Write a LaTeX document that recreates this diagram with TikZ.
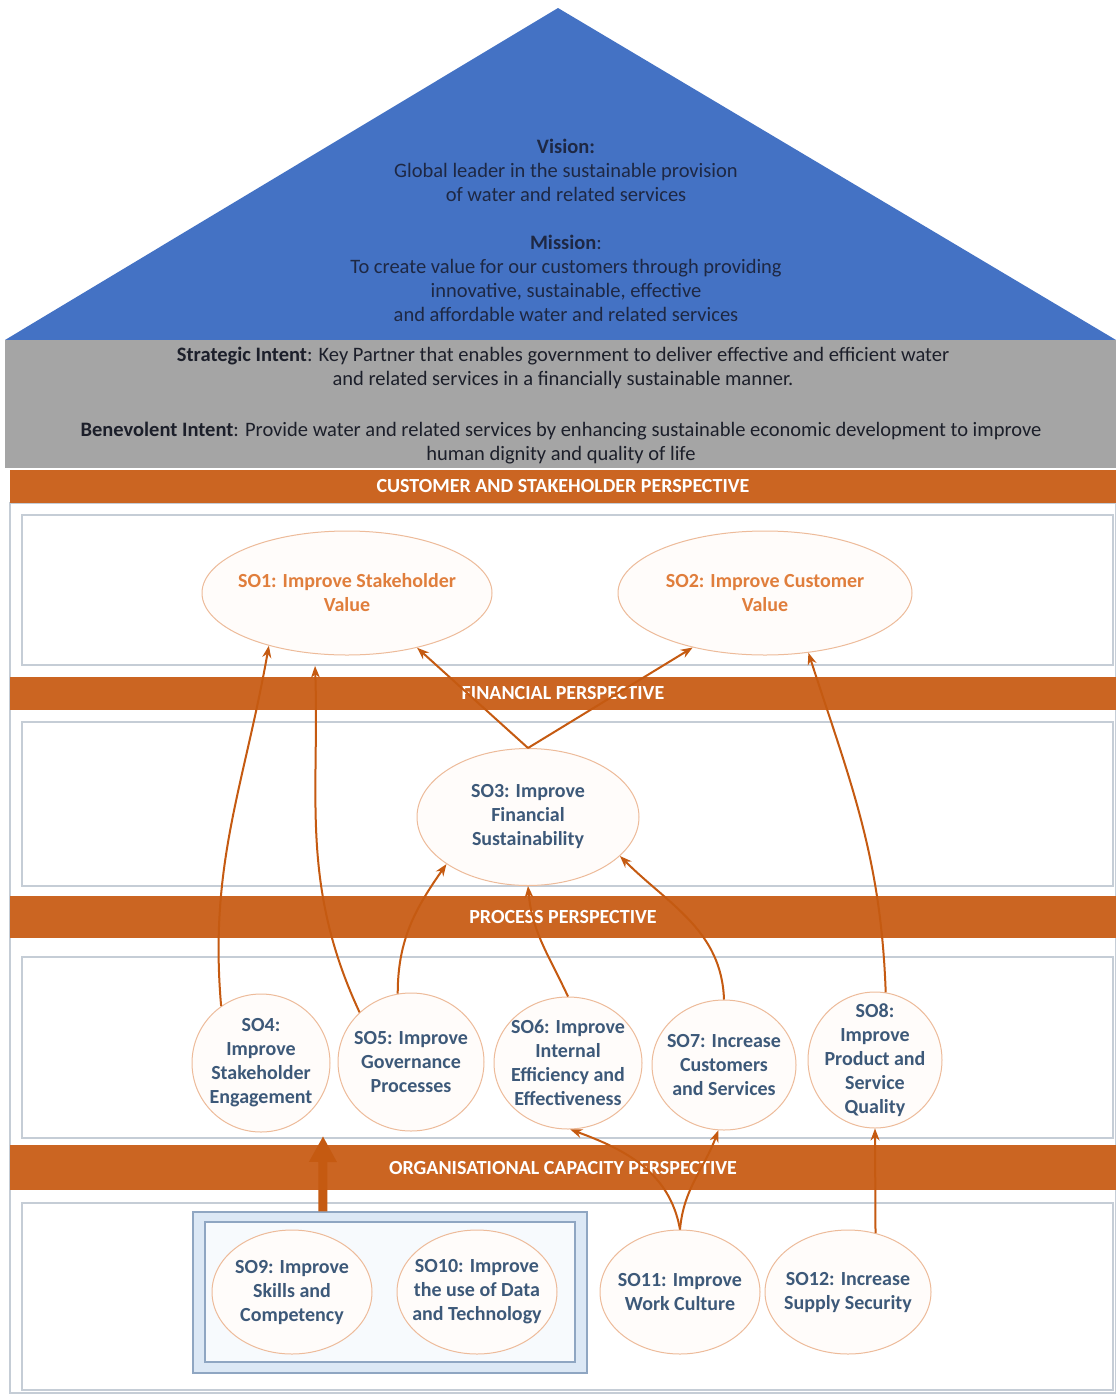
\documentclass[tikz,border=0pt]{standalone}
\usepackage{fontspec}
\setmainfont{Carlito}
\usetikzlibrary{shapes.geometric,arrows.meta,calc}

\definecolor{roofblue}{HTML}{4472C4}
\definecolor{intentgray}{HTML}{A5A5A5}
\definecolor{bandorange}{HTML}{CB6522}
\definecolor{arroworange}{HTML}{C55A11}
\definecolor{navytext}{HTML}{1E2844}
\definecolor{graytext}{HTML}{1C1F2A}
\definecolor{objtext}{HTML}{3D5979}
\definecolor{valtext}{HTML}{E07E3C}
\definecolor{ringorange}{HTML}{EDBB9A}
\definecolor{ringfill}{HTML}{FFFCFA}
\definecolor{framegray}{HTML}{C5CDD6}
\definecolor{grpfill}{HTML}{DCE8F5}
\definecolor{grpline}{HTML}{8FA6C2}
\definecolor{grpinner}{HTML}{F7FAFD}

\tikzset{
  roofText/.style={text=navytext, align=center, font=\fontsize{20.5}{24}\selectfont},
  intentText/.style={text=graytext, align=center, font=\fontsize{20.5}{24}\selectfont},
  band/.style={rectangle, fill=bandorange, draw=none, text=white,
    font=\bfseries\fontsize{20}{22}\selectfont, minimum width=1106pt, inner sep=0pt},
  section/.style={draw=framegray, line width=1.2pt, fill=white},
  objective/.style={ellipse, draw=ringorange, fill=ringfill, line width=1pt, inner sep=0pt},
  objlabel/.style={align=center, text=objtext, inner sep=0pt,
    font=\bfseries\fontsize{20}{24}\selectfont},
  vallabel/.style={objlabel, text=valtext},
  link/.style={draw=arroworange, line width=2pt, -{Stealth[length=12pt,width=9pt]}},
  lift/.style={draw=arroworange, line width=9pt, -{Triangle[length=26pt,width=26pt]}},
}

\begin{document}
\begin{tikzpicture}[x=1pt,y=-1pt]
\useasboundingbox (0,0) rectangle (1116,1395);
\fill[white] (0,0) rectangle (1116,1395);

% roof: vision and mission
\fill[roofblue] (558,8) -- (1116,340) -- (5,340) -- cycle;
\node[roofText] (vision) at (566,170)
  {\textbf{Vision:}\\Global leader in the sustainable provision\\of water and related services};
\node[roofText] (mission) at (566,278)
  {\textbf{Mission}:\\To create value for our customers through providing\\innovative, sustainable, effective\\and affordable water and related services};

% intents
\fill[intentgray] (5,340) rectangle (1116,468);
\node[intentText] (strategic) at (563,368)
  {\textbf{Strategic Intent}: Key Partner that enables government to deliver effective and efficient water\\and related services in a financially sustainable manner.};
\node[intentText] (benevolent) at (561,443)
  {\textbf{Benevolent Intent}: Provide water and related services by enhancing sustainable economic development to improve\\human dignity and quality of life};

% perspective frame and sections
\draw[framegray, line width=1.2pt] (10,503) rectangle (1116,1393);
\draw[section] (22,515) rectangle (1113,665);
\draw[section] (22,722) rectangle (1113,886);
\draw[section] (22,957) rectangle (1113,1138);
\draw[section] (22,1203) rectangle (1113,1390);

% perspective bands
\node[band, minimum height=33pt] (b1) at (563,486.5) {CUSTOMER AND STAKEHOLDER PERSPECTIVE};
\node[band, minimum height=33pt] (b2) at (563,693.5) {FINANCIAL PERSPECTIVE};
\node[band, minimum height=42pt] (b3) at (563,917) {PROCESS PERSPECTIVE};
\node[band, minimum height=45pt] (b4) at (563,1167.5) {ORGANISATIONAL CAPACITY PERSPECTIVE};

% grouped capacity objectives
\node[draw=grpline, line width=1.5pt, fill=grpfill, minimum width=394pt, minimum height=161pt,
  inner sep=0pt] (grp) at (390,1292.5) {};
\node[draw=grpline, line width=2.5pt, fill=grpinner, minimum width=370pt, minimum height=140pt,
  inner sep=0pt] (grpin) at (390,1292) {};

% objectives
\node[objective, minimum width=290pt, minimum height=124pt,
  label={[vallabel]center:{SO1: Improve Stakeholder\\Value}}] (so1) at (347,593) {};
\node[objective, minimum width=294pt, minimum height=124pt,
  label={[vallabel]center:{SO2: Improve Customer\\Value}}] (so2) at (765,593) {};
\node[objective, minimum width=222pt, minimum height=137pt,
  label={[objlabel]center:{SO3: Improve\\Financial\\Sustainability}}] (so3) at (528,817) {};
\node[objective, minimum width=138pt, minimum height=138pt,
  label={[objlabel]center:{SO4:\\Improve\\Stakeholder\\Engagement}}] (so4) at (261,1063) {};
\node[objective, minimum width=146pt, minimum height=138pt,
  label={[objlabel]center:{SO5: Improve\\Governance\\Processes}}] (so5) at (411,1062) {};
\node[objective, minimum width=148pt, minimum height=132pt,
  label={[objlabel]center:{SO6: Improve\\Internal\\Efficiency and\\Effectiveness}}] (so6) at (568,1063) {};
\node[objective, minimum width=144pt, minimum height=130pt,
  label={[objlabel]center:{SO7: Increase\\Customers\\and Services}}] (so7) at (724,1065) {};
\node[objective, minimum width=134pt, minimum height=136pt,
  label={[objlabel]center:{SO8:\\Improve\\Product and\\Service\\Quality}}] (so8) at (875,1060) {};
\node[objective, minimum width=160pt, minimum height=124pt,
  label={[objlabel]center:{SO9: Improve\\Skills and\\Competency}}] (so9) at (292,1292) {};
\node[objective, minimum width=160pt, minimum height=124pt,
  label={[objlabel]center:{SO10: Improve\\the use of Data\\and Technology}}] (so10) at (477,1292) {};
\node[objective, minimum width=160pt, minimum height=124pt,
  label={[objlabel]center:{SO11: Improve\\Work Culture}}] (so11) at (680,1292) {};
\node[objective, minimum width=166pt, minimum height=124pt,
  label={[objlabel]center:{SO12: Increase\\Supply Security}}] (so12) at (848,1292) {};

% cause-and-effect links
\draw[link] (so4.125) to[out=95,in=-100] (so1.-146);
\draw[link, shorten >=12pt] (so5.136) to[out=115,in=-88] (so1.-118);
\draw[link] (so3.north) -- (so1.-38);
\draw[link] (so3.north) -- (so2.-143);
\draw[link] (so8.81) to[out=92,in=-72] (so2.-54);
\draw[link] (so5.101) to[out=90,in=-125] (so3.-150);
\draw[link] (so6.north) to[out=115,in=-85] (so3.south);
\draw[link] (so7.north) to[out=92,in=-45] (so3.-23);
\draw[link] (so11.north) to[out=100,in=-20] (so6.-88);
\draw[link] (so11.north) to[out=85,in=-110] (so7.-95);
\draw[link] (so12.65) -- (so8.south);

% capacity group lifts the process objectives
\coordinate (lifttip) at (323,1136);
\draw[lift] ($(grp.north west)!0.33!(grp.north east)$) -- (lifttip);
\end{tikzpicture}
\end{document}
